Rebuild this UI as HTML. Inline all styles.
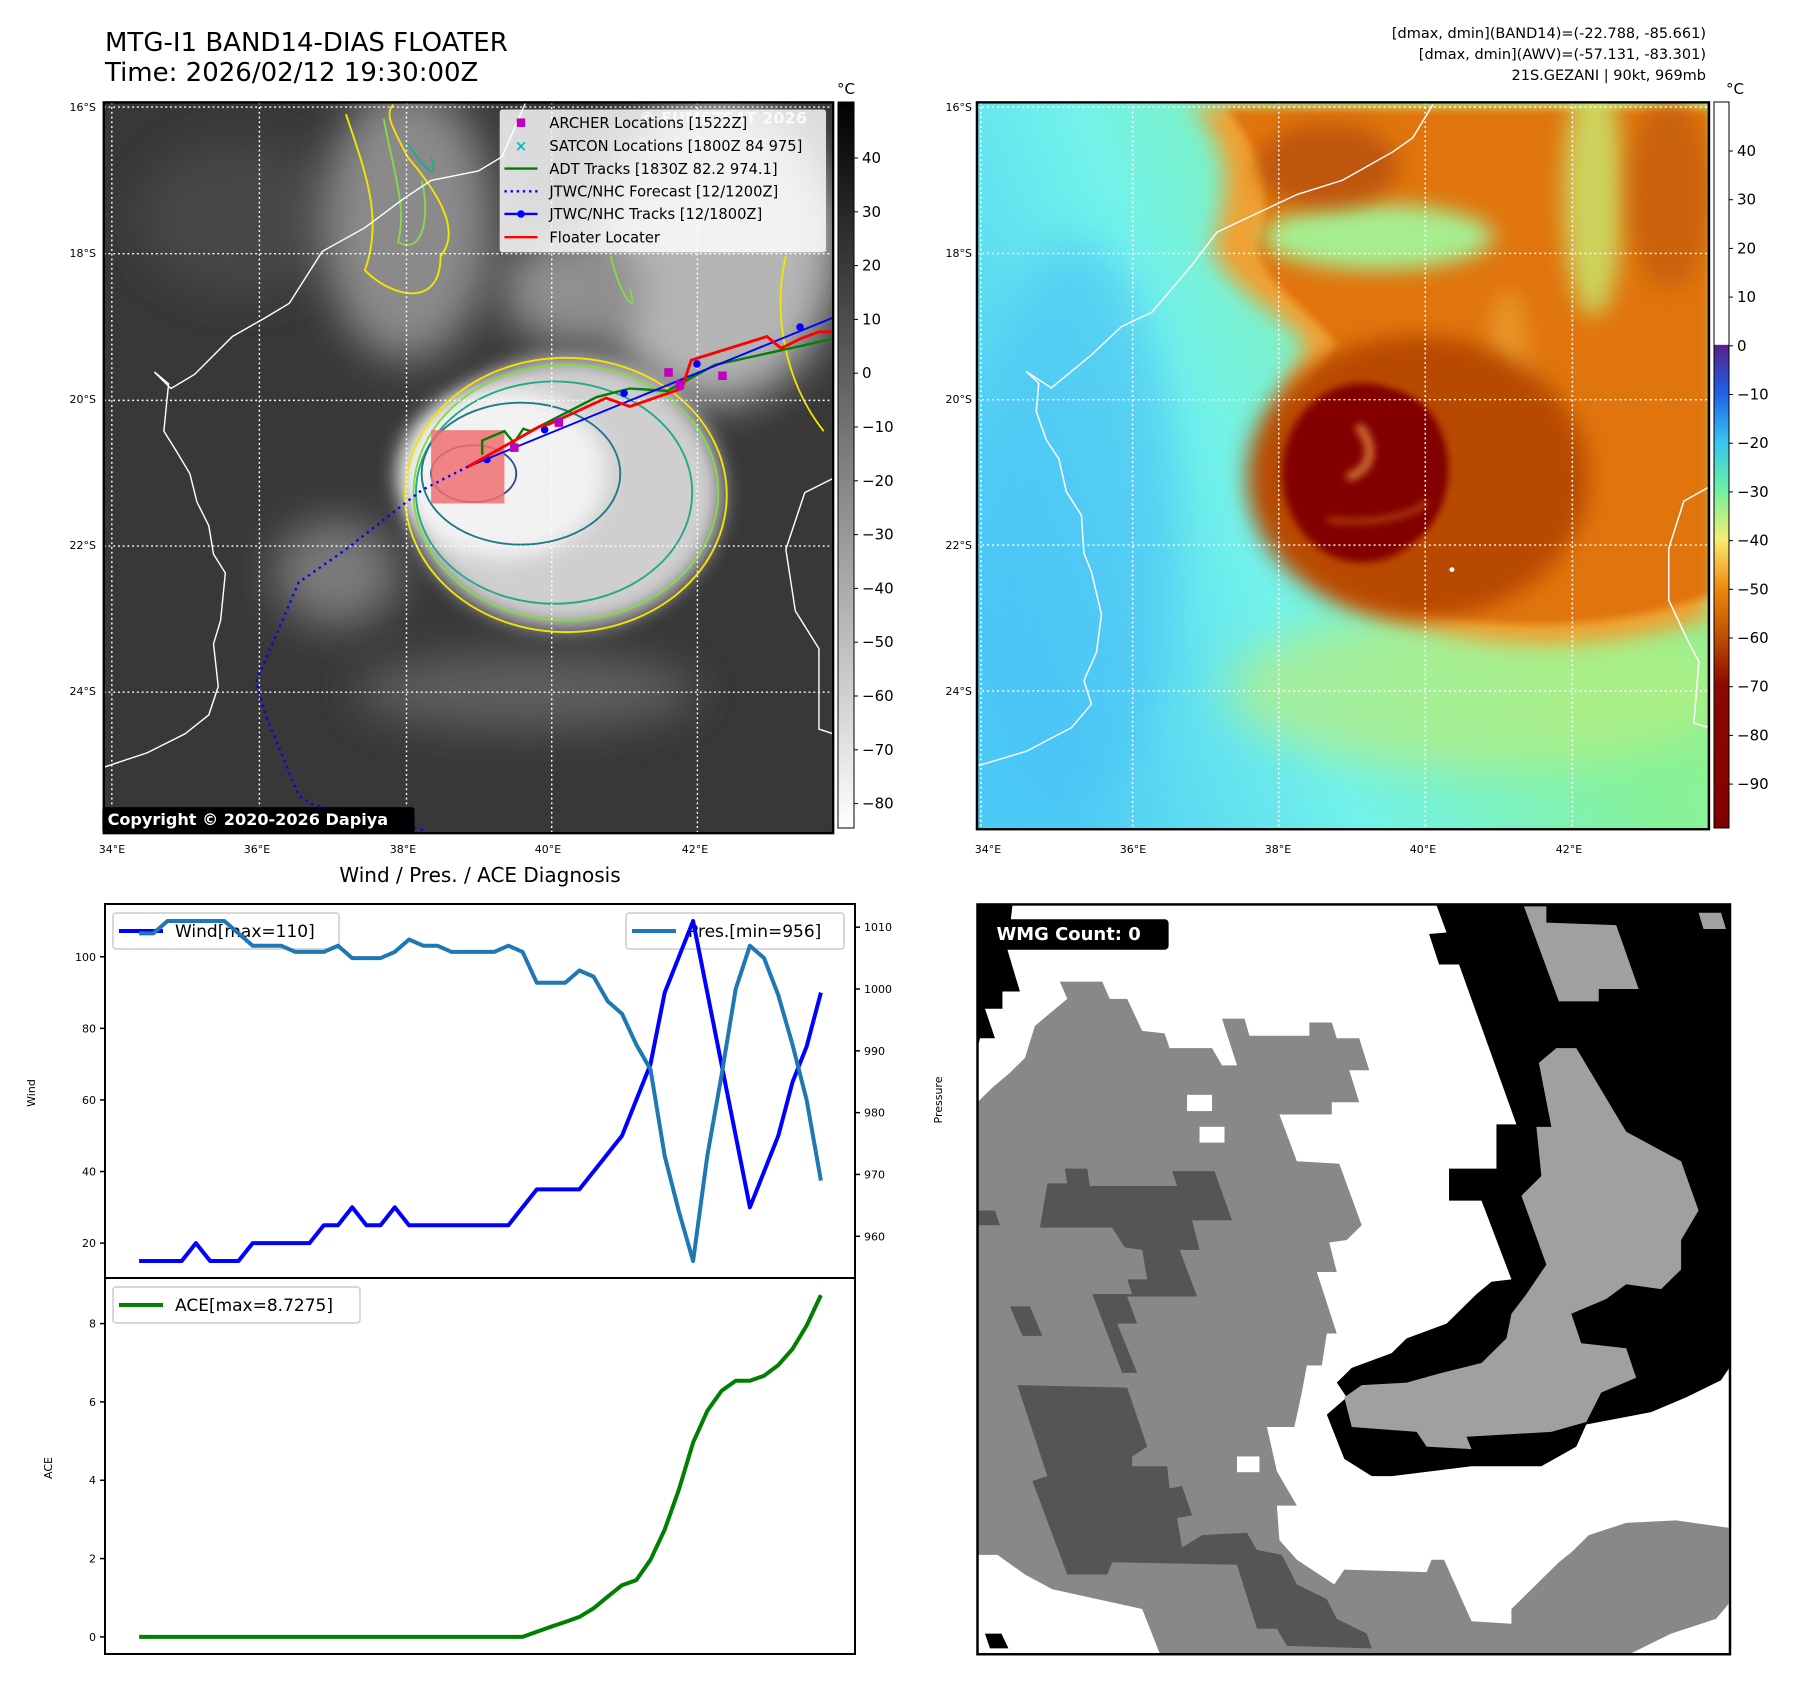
<!DOCTYPE html>
<html><head><meta charset="utf-8"><style>
html,body{margin:0;padding:0;background:#fff}
svg{display:block}
text{font-family:"DejaVu Sans","Liberation Sans",sans-serif}
</style></head><body>
<svg id="fig" width="1797" height="1691" viewBox="0 0 1797 1691" xmlns="http://www.w3.org/2000/svg">
<defs>
<filter id="b8" x="-50%" y="-50%" width="200%" height="200%"><feGaussianBlur stdDeviation="8"/></filter>
<filter id="b20" x="-50%" y="-50%" width="200%" height="200%"><feGaussianBlur stdDeviation="22"/></filter>
<filter id="b40" x="-50%" y="-50%" width="200%" height="200%"><feGaussianBlur stdDeviation="45"/></filter>
<clipPath id="c1"><rect x="8" y="5" width="1542" height="1545"/></clipPath>
<clipPath id="c2"><rect x="2" y="5" width="1458" height="1540"/></clipPath>
<linearGradient id="cb1" x1="0" y1="0" x2="0" y2="1"><stop offset="0" stop-color="#000"/><stop offset="1" stop-color="#fff"/></linearGradient>
<linearGradient id="cb2" x1="0" y1="0" x2="0" y2="1">
<stop offset="0" stop-color="#fff"/><stop offset="0.334" stop-color="#fff"/><stop offset="0.335" stop-color="#5a1f86"/>
<stop offset="0.40" stop-color="#1f60e8"/><stop offset="0.468" stop-color="#36c4f0"/><stop offset="0.535" stop-color="#6ff0a0"/>
<stop offset="0.602" stop-color="#f6ee70"/><stop offset="0.669" stop-color="#f08a10"/><stop offset="0.735" stop-color="#c05000"/>
<stop offset="0.802" stop-color="#8a0a00"/><stop offset="1" stop-color="#800000"/></linearGradient>
<linearGradient id="bg2" x1="0" y1="0.7" x2="1" y2="0.3"><stop offset="0" stop-color="#4ccaf6"/><stop offset="0.35" stop-color="#72f2ea"/><stop offset="0.7" stop-color="#86f29a"/><stop offset="1" stop-color="#9af08a"/></linearGradient>
</defs>

<text x="105" y="51" font-size="26">MTG-I1 BAND14-DIAS FLOATER</text>
<text x="105" y="81" font-size="26">Time: 2026/02/12 19:30:00Z</text>
<g font-size="14.5" text-anchor="end">
<text x="1706" y="38">[dmax, dmin](BAND14)=(-22.788, -85.661)</text>
<text x="1706" y="59">[dmax, dmin](AWV)=(-57.131, -83.301)</text>
<text x="1706" y="80">21S.GEZANI | 90kt, 969mb</text>
</g>

<!-- MAP 1 -->
<g transform="translate(100,100) scale(0.473)">
<g clip-path="url(#c1)">
<rect x="8" y="5" width="1542" height="1545" fill="#383838"/>
<ellipse cx="300" cy="250" rx="220" ry="160" fill="#474747" filter="url(#b40)"/>
<ellipse cx="650" cy="260" rx="180" ry="290" fill="#8a8a8a" filter="url(#b40)"/>
<ellipse cx="1300" cy="320" rx="260" ry="320" fill="#b5b5b5" filter="url(#b40)"/>
<ellipse cx="1000" cy="400" rx="150" ry="120" fill="#909090" filter="url(#b40)"/>
<ellipse cx="500" cy="1000" rx="130" ry="110" fill="#7a7a7a" filter="url(#b40)"/>
<ellipse cx="900" cy="1250" rx="360" ry="80" fill="#5e5e5e" filter="url(#b40)"/>
<ellipse cx="985" cy="830" rx="330" ry="285" fill="#cfcfcf" filter="url(#b20)"/>
<ellipse cx="850" cy="790" rx="220" ry="180" fill="#f2f2f2" filter="url(#b20)"/>
<g fill="none" stroke-width="4">
<ellipse cx="985" cy="835" rx="340" ry="290" stroke="#f4e400"/>
<ellipse cx="985" cy="830" rx="322" ry="270" stroke="#84d84a"/>
<ellipse cx="960" cy="830" rx="292" ry="235" stroke="#24a88a"/>
<ellipse cx="890" cy="790" rx="210" ry="150" stroke="#1f7a88"/>
<ellipse cx="790" cy="790" rx="90" ry="60" stroke="#2f4a8a"/>
<path d="M520 30 C560 150 600 250 560 360 C620 420 720 440 720 330 C770 270 700 180 650 120 C620 60 600 30 620 10" stroke="#f4e400"/>
<path d="M600 40 C620 150 650 230 630 300 C680 330 700 250 680 170" stroke="#84d84a"/>
<path d="M650 90 C680 140 720 180 700 120" stroke="#24a88a"/>
<path d="M1450 330 C1420 450 1450 600 1530 700" stroke="#f4e400"/>
<path d="M1080 330 C1100 420 1140 460 1120 400" stroke="#84d84a"/>
</g>
<rect x="700" y="698" width="155" height="155" fill="#f07070" opacity="0.85"/>
<g fill="none" stroke="#fff" stroke-width="3">
<path d="M10 1410 L100 1380 L180 1340 L230 1300 L250 1240 L240 1150 L255 1100 L265 1000 L240 960 L230 900 L205 850 L190 790 L160 740 L135 700 L145 600 L115 575 L150 610 L200 580 L280 500 L350 460 L400 430 L470 320 L560 270 L640 210 L700 170 L800 150 L850 120 L900 5"/>
<path d="M1550 800 L1490 830 L1450 950 L1470 1080 L1520 1160 L1520 1330 L1550 1340"/>
</g>
<g stroke="#fff" stroke-width="3" stroke-dasharray="4 6">
<line x1="25" y1="5" x2="25" y2="1550"/><line x1="337" y1="5" x2="337" y2="1550"/><line x1="648" y1="5" x2="648" y2="1550"/><line x1="955" y1="5" x2="955" y2="1550"/><line x1="1263" y1="5" x2="1263" y2="1550"/>
<line x1="8" y1="15" x2="1550" y2="15"/><line x1="8" y1="325" x2="1550" y2="325"/><line x1="8" y1="635" x2="1550" y2="635"/><line x1="8" y1="943" x2="1550" y2="943"/><line x1="8" y1="1252" x2="1550" y2="1252"/>
</g>
<polyline points="778,775 680,825 520,950 420,1020 330,1230 350,1300 420,1470 450,1490 690,1545" fill="none" stroke="#0000ff" stroke-width="5" stroke-dasharray="5 9"/>
<polyline points="808,750 808,720 855,700 875,725 895,695 910,700 1050,628 1120,610 1200,615 1300,560 1550,505" fill="none" stroke="#008000" stroke-width="5"/>
<polyline points="778,775 1550,460" fill="none" stroke="#0000ff" stroke-width="4"/>
<g fill="#0000ff"><circle cx="818" cy="760" r="8"/><circle cx="940" cy="697" r="8"/><circle cx="1108" cy="620" r="8"/><circle cx="1262" cy="558" r="8"/><circle cx="1480" cy="480" r="8"/></g>
<polyline points="778,775 930,690 950,685 1070,630 1120,648 1230,610 1250,550 1410,500 1440,525 1480,505 1520,490 1550,490" fill="none" stroke="#ff0000" stroke-width="6"/>
<g fill="#c000c0"><rect x="867" y="726" width="18" height="18"/><rect x="961" y="673" width="18" height="18"/><rect x="1193" y="567" width="18" height="18"/><rect x="1217" y="593" width="18" height="18"/><rect x="1307" y="574" width="18" height="18"/></g>
<text x="1140" y="50" font-size="34" font-weight="bold" fill="#ddd">© EUMETSAT 2026</text>
</g>
<rect x="8" y="5" width="1542" height="1545" fill="none" stroke="#000" stroke-width="5"/>
<g>
<rect x="845" y="20" width="690" height="302" fill="#fff" opacity="0.82" rx="6"/>
<g font-size="31">
<rect x="881" y="39" width="18" height="18" fill="#c000c0"/><text x="950" y="59">ARCHER Locations [1522Z]</text>
<text x="890" y="108" fill="#00c0c0" text-anchor="middle" font-weight="bold">×</text><text x="950" y="108">SATCON Locations [1800Z 84 975]</text>
<line x1="855" y1="145" x2="925" y2="145" stroke="#008000" stroke-width="5"/><text x="950" y="156">ADT Tracks [1830Z 82.2 974.1]</text>
<line x1="855" y1="193" x2="925" y2="193" stroke="#0000ff" stroke-width="5" stroke-dasharray="5 8"/><text x="950" y="204">JTWC/NHC Forecast [12/1200Z]</text>
<line x1="855" y1="241" x2="925" y2="241" stroke="#0000ff" stroke-width="5"/><circle cx="890" cy="241" r="8" fill="#0000ff"/><text x="950" y="252">JTWC/NHC Tracks [12/1800Z]</text>
<line x1="855" y1="290" x2="925" y2="290" stroke="#ff0000" stroke-width="5"/><text x="950" y="301">Floater Locater</text>
</g></g>
<rect x="5" y="1495" width="660" height="55" fill="#000" rx="6"/>
<text x="16" y="1533" font-size="34" font-weight="bold" fill="#fff">Copyright © 2020-2026 Dapiya</text>
</g>
<g font-size="11">
<text x="96" y="111" text-anchor="end">16°S</text><text x="96" y="257" text-anchor="end">18°S</text><text x="96" y="403" text-anchor="end">20°S</text><text x="96" y="549" text-anchor="end">22°S</text><text x="96" y="695" text-anchor="end">24°S</text>
<g text-anchor="middle"><text x="112" y="853">34°E</text><text x="257" y="853">36°E</text><text x="403" y="853">38°E</text><text x="548" y="853">40°E</text><text x="695" y="853">42°E</text></g>
</g>
<rect x="838" y="102" width="16" height="726" fill="url(#cb1)" stroke="#000" stroke-width="1"/>
<text x="846" y="94" font-size="15" text-anchor="middle">°C</text>
<g font-size="15" id="cb1ticks"></g>

<!-- MAP 2 -->
<g transform="translate(976,100) scale(0.502,0.472)">
<g clip-path="url(#c2)">
<rect x="2" y="5" width="1458" height="1540" fill="url(#bg2)"/>
<ellipse cx="200" cy="900" rx="200" ry="600" fill="#48c0f6" opacity="0.6" filter="url(#b40)"/>
<ellipse cx="1000" cy="1250" rx="500" ry="170" fill="#b8ee80" opacity="0.7" filter="url(#b40)"/>
<path d="M430 10 L1460 10 L1460 1100 C1300 1150 1100 1180 900 1120 C750 1080 620 980 600 820 C590 700 610 600 660 520 C600 440 520 420 470 320 C500 200 520 120 430 10 Z" fill="#f0a030" filter="url(#b20)"/>
<path d="M500 20 L1460 20 L1460 1050 C1300 1110 1100 1130 920 1090 C760 1040 650 950 630 820 C620 700 650 600 720 520 C650 430 560 380 560 300 C600 200 560 100 500 20 Z" fill="#e07410" filter="url(#b8)"/>
<ellipse cx="800" cy="290" rx="230" ry="70" fill="#a6ee90" filter="url(#b20)"/>
<ellipse cx="1230" cy="200" rx="60" ry="260" fill="#c8ea70" opacity="0.8" filter="url(#b20)"/>
<ellipse cx="1060" cy="600" rx="40" ry="200" fill="#f0b040" opacity="0.6" filter="url(#b20)"/>
<ellipse cx="1380" cy="200" rx="80" ry="200" fill="#c05a10" opacity="0.7" filter="url(#b20)"/>
<ellipse cx="700" cy="140" rx="140" ry="90" fill="#b04808" opacity="0.7" filter="url(#b20)"/>
<ellipse cx="880" cy="800" rx="340" ry="300" fill="#b84a02" filter="url(#b20)"/>
<ellipse cx="770" cy="790" rx="160" ry="190" fill="#820000" filter="url(#b8)"/>
<ellipse cx="830" cy="780" rx="110" ry="160" fill="#820000" filter="url(#b8)"/>
<path d="M740 800 C800 780 790 720 760 690" fill="none" stroke="#d07030" stroke-width="18" filter="url(#b8)"/>
<path d="M700 890 C800 900 870 880 900 850" fill="none" stroke="#b04010" stroke-width="12" filter="url(#b8)"/>
<g fill="none" stroke="#fff" stroke-width="3">
<path d="M5 1410 L100 1380 L190 1330 L230 1280 L215 1230 L240 1170 L250 1090 L230 1000 L215 960 L210 880 L180 830 L165 760 L140 720 L120 660 L125 600 L100 575 L150 610 L230 540 L290 480 L350 450 L430 350 L480 280 L560 240 L640 200 L730 170 L830 110 L870 80 L910 10"/>
<path d="M1460 820 L1410 850 L1380 950 L1380 1060 L1420 1150 L1440 1190 L1430 1320 L1460 1330"/>
</g>
<circle cx="948" cy="995" r="5" fill="#fff"/>
<g stroke="#fff" stroke-width="3" stroke-dasharray="4 6">
<line x1="10" y1="5" x2="10" y2="1545"/><line x1="312" y1="5" x2="312" y2="1545"/><line x1="603" y1="5" x2="603" y2="1545"/><line x1="895" y1="5" x2="895" y2="1545"/><line x1="1188" y1="5" x2="1188" y2="1545"/>
<line x1="2" y1="15" x2="1460" y2="15"/><line x1="2" y1="325" x2="1460" y2="325"/><line x1="2" y1="635" x2="1460" y2="635"/><line x1="2" y1="943" x2="1460" y2="943"/><line x1="2" y1="1252" x2="1460" y2="1252"/>
</g>
</g>
<rect x="2" y="5" width="1458" height="1540" fill="none" stroke="#000" stroke-width="5"/>
</g>
<g font-size="11">
<text x="972" y="111" text-anchor="end">16°S</text><text x="972" y="257" text-anchor="end">18°S</text><text x="972" y="403" text-anchor="end">20°S</text><text x="972" y="549" text-anchor="end">22°S</text><text x="972" y="695" text-anchor="end">24°S</text>
<g text-anchor="middle"><text x="988" y="853">34°E</text><text x="1133" y="853">36°E</text><text x="1278" y="853">38°E</text><text x="1423" y="853">40°E</text><text x="1569" y="853">42°E</text></g>
</g>
<rect x="1714" y="102" width="15" height="726" fill="url(#cb2)" stroke="#000" stroke-width="1"/>
<text x="1735" y="94" font-size="15" text-anchor="middle">°C</text>
<g font-size="15" id="cb2ticks"></g>

<!-- WMG panel -->
<g transform="translate(977.5,900.5) scale(0.499,0.492)">
<rect x="0" y="8" width="1508" height="1524" fill="#fff"/>
<polygon fill="#000" points="920,10 1508,10 1508,948 1490,975 1420,1010 1350,1040 1220,1065 1200,1110 1130,1150 990,1150 830,1170 790,1170 735,1135 700,1045 740,1010 720,980 750,950 830,920 860,890 940,860 970,830 1000,800 1030,775 1070,770 1010,610 945,610 945,545 1040,545 1040,455 1080,455 965,130 925,130 905,68 940,65"/>
<polygon fill="#a0a0a0" points="1160,300 1200,300 1300,470 1410,530 1445,630 1410,690 1410,750 1370,790 1300,780 1260,810 1190,840 1210,900 1300,910 1320,970 1250,1000 1220,1060 1150,1080 980,1090 990,1115 900,1110 880,1080 750,1070 735,1010 770,985 860,980 930,960 1010,940 1060,890 1070,840 1100,800 1140,740 1090,600 1130,560 1120,460 1150,460 1125,330"/>
<polygon fill="#a0a0a0" points="1095,12 1140,12 1140,45 1280,50 1325,180 1245,180 1245,205 1165,205"/>
<polygon fill="#a0a0a0" points="1445,25 1490,25 1500,58 1455,58"/>
<polygon fill="#000" points="0,10 70,10 60,100 85,185 50,185 50,220 15,220 35,280 5,280 0,300"/>
<polygon fill="#888" points="0,410 30,380 65,350 95,320 115,255 150,225 180,200 165,165 250,165 265,200 300,200 330,265 375,270 385,300 470,300 490,335 520,335 490,240 535,240 545,275 665,275 665,248 710,248 720,280 765,280 785,345 745,345 765,410 710,410 710,435 605,435 640,530 725,535 770,660 740,690 705,695 720,755 680,755 720,880 700,880 690,945 660,945 650,1000 635,1070 580,1070 600,1160 640,1230 600,1230 605,1300 640,1340 715,1390 735,1360 900,1365 910,1340 935,1340 990,1465 1070,1470 1070,1440 1100,1410 1130,1380 1165,1345 1190,1325 1225,1290 1300,1265 1400,1260 1505,1275 1505,1430 1480,1460 1390,1490 1310,1530 365,1530 330,1440 150,1400 95,1370 40,1330 0,1330"/>
<polygon fill="#555" points="140,575 180,575 175,545 220,545 225,580 400,580 390,550 475,550 510,650 430,650 445,710 405,710 440,805 300,805 320,860 280,860 320,960 290,960 230,800 310,800 300,770 340,770 330,710 295,705 270,665 125,665"/>
<polygon fill="#555" points="80,985 300,990 340,1110 310,1130 310,1150 380,1150 385,1195 410,1190 430,1250 400,1255 410,1315 450,1290 540,1285 560,1320 610,1330 640,1390 700,1420 720,1460 780,1490 790,1520 620,1515 600,1480 560,1480 520,1350 270,1345 260,1370 180,1370 110,1180 140,1170"/>
<polygon fill="#555" points="65,825 105,825 130,885 90,885"/>
<polygon fill="#555" points="0,630 35,630 45,660 0,660"/>
<polygon fill="#000" points="15,1490 48,1490 62,1520 25,1520"/>
<g fill="#fff"><rect x="420" y="395" width="50" height="33"/><rect x="445" y="460" width="50" height="32"/><rect x="520" y="1130" width="45" height="32"/></g>
<rect x="0" y="8" width="1508" height="1524" fill="none" stroke="#000" stroke-width="5"/>
<rect x="33" y="38" width="350" height="62" rx="8" fill="#000"/>
<text x="38" y="80" font-size="36" font-weight="bold" fill="#fff">WMG Count: 0</text>
</g>

<text x="480" y="882" font-size="20" text-anchor="middle">Wind / Pres. / ACE Diagnosis</text>
<g id="chart"></g>
</svg>
<script>
const windValues=[15,15,15,15,20,15,15,15,20,20,20,20,20,25,25,30,25,25,30,25,25,25,25,25,25,25,25,30,35,35,35,35,40,45,50,60,70,90,100,110,90,70,50,30,40,50,65,75,90];
const presValues=[1009,1009,1011,1011,1011,1011,1011,1009,1007,1007,1007,1006,1006,1006,1007,1005,1005,1005,1006,1008,1007,1007,1006,1006,1006,1006,1007,1006,1001,1001,1001,1003,1002,998,996,991,987,973,964,956,973,986,1000,1007,1005,999,991,982,969];
const aceValues=[0,0,0,0,0,0,0,0,0,0,0,0,0,0,0,0,0,0,0,0,0,0,0,0,0,0,0,0,0.13,0.26,0.38,0.51,0.73,1.03,1.32,1.45,1.97,2.74,3.76,4.96,5.77,6.28,6.54,6.54,6.67,6.94,7.35,7.95,8.7275];
const windTicks=[20,40,60,80,100];
const presTicks=[960,970,980,990,1000,1010];
const aceTicks=[0,2,4,6,8];
const cb1Ticks=[40,30,20,10,0,-10,-20,-30,-40,-50,-60,-70,-80];
const cb2Ticks=[40,30,20,10,0,-10,-20,-30,-40,-50,-60,-70,-80,-90];

const NS='http://www.w3.org/2000/svg';
function mk(parent,tag,attrs){const e=document.createElementNS(NS,tag);for(const k in attrs)e.setAttribute(k,attrs[k]);parent.appendChild(e);return e;}
const L=105,R=855,T=904,M=1278,B=1654;
const n=windValues.length;
const xS=i=>L+(i+2.4)/((n-1)+4.8)*(R-L);
const wY=v=>M-(v-10.25)/(114.75-10.25)*(M-T);
const pY=v=>M-(v-953.25)/(1013.75-953.25)*(M-T);
const aLo=-0.436,aHi=8.7275+0.436;
const aY=v=>B-(v-aLo)/(aHi-aLo)*(B-M);
const ch=document.getElementById('chart');

const cb1=document.getElementById('cb1ticks');
cb1Ticks.forEach(v=>{const y=158+(40-v)/10*53.8;
 const t=mk(cb1,'line',{x1:854,x2:858,y1:y,y2:y,stroke:'#000'});
 
 const s=mk(cb1,'text',{x:862,y:y+5});s.textContent=(v<0?'\u2212'+(-v):v);
 });
const cb2=document.getElementById('cb2ticks');
cb2Ticks.forEach(v=>{const y=151+(40-v)/10*48.7;
 const t=mk(cb2,'line',{x1:1729,x2:1733,y1:y,y2:y,stroke:'#000'});
 
 const s=mk(cb2,'text',{x:1737,y:y+5});s.textContent=(v<0?'\u2212'+(-v):v);
 });

const f1=mk(ch,'rect',{x:L,y:T,width:R-L,height:M-T,fill:'none',stroke:'#000','stroke-width':2});

const f2=mk(ch,'rect',{x:L,y:M,width:R-L,height:B-M,fill:'none',stroke:'#000','stroke-width':2});


function ytick(arr,fn,side,name){arr.forEach(v=>{const y=fn(v);
 const x0=side==='l'?L:R, x1=side==='l'?L-5:R+5;
 const t=mk(ch,'line',{x1:x0,x2:x1,y1:y,y2:y,stroke:'#000','stroke-width':1.5});
 
 const s=mk(ch,'text',{x:side==='l'?L-9:R+9,y:y+4,'font-size':11,'text-anchor':side==='l'?'end':'start'});
 s.textContent=v;
 });}
ytick(windTicks,wY,'l','wind-axis');
ytick(presTicks,pY,'r','pressure-axis');
ytick(aceTicks,aY,'l','ace-axis');

function line(vals,fn,color,name){const pts=vals.map((v,i)=>xS(i).toFixed(1)+','+fn(v).toFixed(1)).join(' ');
 const p=mk(ch,'polyline',{points:pts,fill:'none',stroke:color,'stroke-width':4,'stroke-linejoin':'round'});
 }

function legend(x,y,w,color,label,name){const g=mk(ch,'g',{});
 
 mk(g,'rect',{x:x,y:y,width:w,height:36,rx:3,fill:'#fff','fill-opacity':0.8,stroke:'#ccc','stroke-width':1.5});
 mk(g,'line',{x1:x+6,x2:x+50,y1:y+18,y2:y+18,stroke:color,'stroke-width':4});
 const s=mk(g,'text',{x:x+62,y:y+24,'font-size':17});s.textContent=label;}
legend(113,913,226,'#0000ff','Wind[max=110]','wind-legend');
legend(626,913,218,'#1f77b4','Pres.[min=956]','pressure-legend');
legend(113,1287,247,'#008000','ACE[max=8.7275]','ace-legend');

line(windValues,wY,'#0000ff','wind-line');
line(presValues,pY,'#1f77b4','pressure-line');
line(aceValues,aY,'#008000','ace-line');

function vlabel(x,y,txt,name){const s=mk(ch,'text',{x:x,y:y,'font-size':11,'text-anchor':'middle',transform:'rotate(-90 '+x+' '+y+')'});
 s.textContent=txt;}
vlabel(35,1093,'Wind','wind-axis-title');
vlabel(942,1100,'Pressure','pressure-axis-title');
vlabel(52,1468,'ACE','ace-axis-title');
</script>
</body></html>
